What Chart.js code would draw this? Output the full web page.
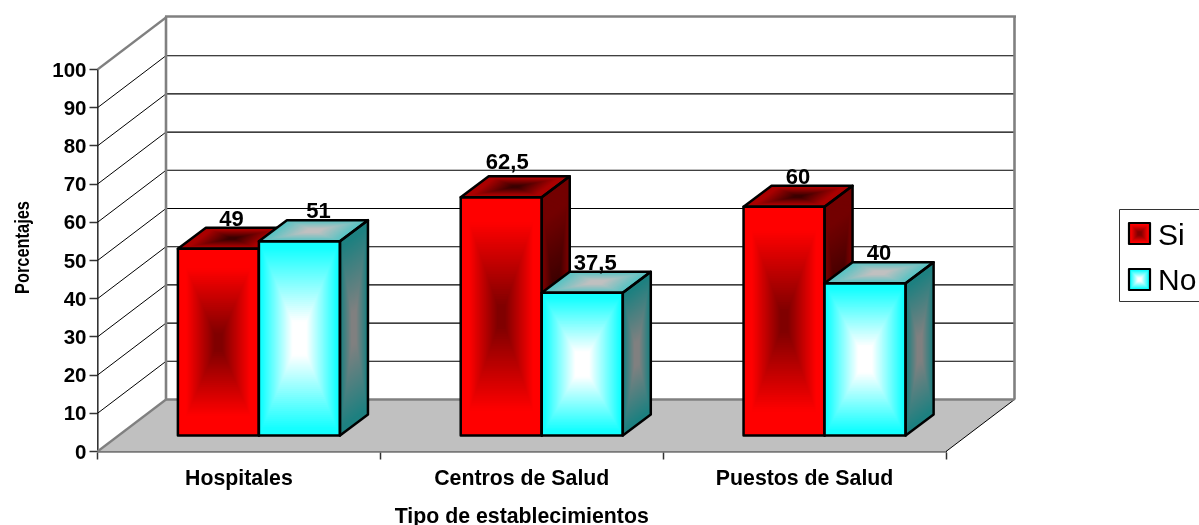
<!DOCTYPE html>
<html>
<head>
<meta charset="utf-8">
<style>
  html, body { margin: 0; padding: 0; background: #fff; }
  canvas { display: block; }
</style>
<script src="https://cdn.jsdelivr.net/npm/chart.js@4"></script>
</head>
<body>
<canvas id="chart" width="1199" height="525"></canvas>
<script>
const categories = ["Hospitales", "Centros de Salud", "Puestos de Salud"]
const siValues = [49, 62.5, 60]
const noValues = [51, 37.5, 40]
const xTitle = "Tipo de establecimientos"
const yTitle = "Porcentajes"

const FONT = '"Liberation Sans", Arial, sans-serif'
const WALL = { dx: 68.5, dy: -52 }   // profundidad de la caja
const BAR = { sx: 20, sy: -15.5, dx: 28, dy: -21 } // plano de las barras y su fondo

// colores [borde, centro] de cada cara, ramp = tramo del degradado
const faces = [
  { ramp: [0.2, 0.9], front: [[255, 0, 0], [128, 0, 0]], top: [[170, 0, 0], [60, 0, 0]], side: [[115, 0, 0], [50, 0, 0]] },
  { ramp: [0.06, 0.82], front: [[20, 255, 255], [255, 255, 255]], top: [[90, 195, 195], [192, 192, 192]], side: [[30, 128, 128], [128, 128, 128]] },
]
// ajuste de cada etiqueta, como las dejó el original
const labelNudge = [[[-1, 0], [-8, -5], [0, 0]], [[5, 0], [-1, 0], [0, 0]]]

function mix(a, b, t) {
  return `rgb(${a.map((v, i) => Math.round(v + (b[i] - v) * t)).join(",")})`
}

// degradado "desde el centro" sobre un paralelogramo
function shade(ctx, o, u, v, [edge, centre], [from, to]) {
  const steps = 48
  ctx.save()
  ctx.transform(u[0], u[1], v[0], v[1], o[0], o[1])
  for (let i = 0; i <= steps; i++) {
    const t = i / steps
    const k = Math.min(1, Math.max(0, (t - from) / (to - from)))
    ctx.fillStyle = mix(edge, centre, k)
    ctx.fillRect(t / 2, t / 2, 1 - t, 1 - t)
  }
  ctx.restore()
}

function outline(ctx, pts, width) {
  ctx.beginPath()
  pts.forEach((p, i) => i ? ctx.lineTo(p[0], p[1]) : ctx.moveTo(p[0], p[1]))
  ctx.closePath()
  ctx.lineWidth = width
  ctx.strokeStyle = "#000"
  ctx.lineJoin = "round"
  ctx.stroke()
}

function line(ctx, x1, y1, x2, y2, color, width) {
  ctx.beginPath()
  ctx.moveTo(x1, y1)
  ctx.lineTo(x2, y2)
  ctx.strokeStyle = color
  ctx.lineWidth = width
  ctx.stroke()
}

const boxPlugin = {
  id: "box3d",
  beforeDatasetsDraw(chart) {
    const { ctx, chartArea: a, scales: { y } } = chart
    const bx = a.left + WALL.dx, by = WALL.dy
    ctx.save()
    // suelo
    ctx.beginPath()
    ctx.moveTo(a.left, a.bottom)
    ctx.lineTo(a.right, a.bottom)
    ctx.lineTo(a.right + WALL.dx, a.bottom + by)
    ctx.lineTo(bx, a.bottom + by)
    ctx.closePath()
    ctx.fillStyle = "#c0c0c0"
    ctx.fill()
    // rejilla en pared y lateral
    y.ticks.forEach(t => {
      const py = y.getPixelForValue(t.value)
      if (t.value > 0 && t.value < 100) {
        line(ctx, a.left, py, bx, py + by, "#000", 1)
        line(ctx, bx, py + by, a.right + WALL.dx, py + by, "#000", 1.1)
      }
    })
    line(ctx, a.right, a.bottom, a.right + WALL.dx, a.bottom + by, "#000", 1)
    // marco gris
    const grey = "#808080"
    line(ctx, a.left, a.top, bx, a.top + by, grey, 2.2)
    line(ctx, bx - 1, a.top + by - 1, a.right + WALL.dx + 1.5, a.top + by - 1, grey, 2.4)
    line(ctx, bx, a.top + by - 1, bx, a.bottom + by, grey, 2.6)
    line(ctx, a.right + WALL.dx, a.top + by - 1, a.right + WALL.dx, a.bottom + by, grey, 2.6)
    line(ctx, bx, a.bottom + by, a.right + WALL.dx, a.bottom + by, grey, 2.4)
    line(ctx, a.left, a.bottom, bx, a.bottom + by, grey, 2.2)
    ctx.restore()
  },
  afterDatasetsDraw(chart) {
    const { ctx } = chart
    categories.forEach((c, i) => {
      chart.data.datasets.forEach((ds, d) => {
        const el = chart.getDatasetMeta(d).data[i]
        const l = el.x - el.width / 2 + BAR.sx, r = el.x + el.width / 2 + BAR.sx
        const t = el.y + BAR.sy, b = el.base + BAR.sy
        const f = faces[d]
        shade(ctx, [r, t], [BAR.dx, BAR.dy], [0, b - t], f.side, f.ramp)
        shade(ctx, [l, t], [r - l, 0], [BAR.dx, BAR.dy], f.top, f.ramp)
        shade(ctx, [l, t], [r - l, 0], [0, b - t], f.front, f.ramp)
        outline(ctx, [[r, t], [r + BAR.dx, t + BAR.dy], [r + BAR.dx, b + BAR.dy], [r, b]], 2.5)
        outline(ctx, [[l, t], [l + BAR.dx, t + BAR.dy], [r + BAR.dx, t + BAR.dy], [r, t]], 2.5)
        outline(ctx, [[l, t], [r, t], [r, b], [l, b]], 2.5)
      })
    })
    // etiquetas de valor
    ctx.save()
    ctx.font = `bold 22px ${FONT}`
    ctx.fillStyle = "#000"
    ctx.textAlign = "center"
    ctx.textBaseline = "alphabetic"
    chart.data.datasets.forEach((ds, d) => {
      chart.getDatasetMeta(d).data.forEach((el, i) => {
        const [nx, ny] = labelNudge[d][i]
        const txt = String(ds.data[i]).replace(".", ",")
        ctx.fillText(txt, el.x + BAR.sx + BAR.dx / 2 + nx, el.y + BAR.sy + BAR.dy - 2 + ny)
      })
    })
    ctx.restore()
  },
  afterDraw(chart) {
    const { ctx } = chart
    ctx.save()
    // título vertical, algo comprimido como en el original
    ctx.translate(23, 247.5)
    ctx.rotate(-Math.PI / 2)
    ctx.scale(0.8, 1)
    ctx.font = `bold 20.5px ${FONT}`
    ctx.fillStyle = "#000"
    ctx.textAlign = "center"
    ctx.textBaseline = "middle"
    ctx.fillText(yTitle, 0, 0)
    ctx.restore()
    // leyenda
    ctx.save()
    ctx.fillStyle = "#fff"
    ctx.strokeStyle = "#333"
    ctx.lineWidth = 1
    ctx.fillRect(1119.5, 209.5, 90, 92)
    ctx.strokeRect(1119.5, 209.5, 90, 92)
    chart.data.datasets.forEach((ds, d) => {
      const top = 223 + d * 46
      shade(ctx, [1129, top], [21, 0], [0, 21], faces[d].front, [0.15, 0.85])
      outline(ctx, [[1129, top], [1150, top], [1150, top + 21], [1129, top + 21]], 2.2)
      ctx.font = `30px ${FONT}`
      ctx.fillStyle = "#000"
      ctx.textAlign = "left"
      ctx.textBaseline = "alphabetic"
      ctx.fillText(ds.label, 1158, top + 22 - d)
    })
    ctx.restore()
  },
}

new Chart(document.getElementById("chart").getContext("2d"), {
  type: "bar",
  data: {
    labels: categories,
    datasets: [
      { label: "Si", data: siValues, backgroundColor: "transparent", borderWidth: 0 },
      { label: "No", data: noValues, backgroundColor: "transparent", borderWidth: 0 },
    ],
  },
  options: {
    responsive: false,
    animation: false,
    devicePixelRatio: 1,
    categoryPercentage: 0.573,
    barPercentage: 1,
    layout: { padding: { top: 69.5, right: 253, left: 0, bottom: 0 } },
    plugins: { legend: { display: false }, tooltip: { enabled: false } },
    scales: {
      x: {
        afterFit(s) { s.height = 73.5 },
        grid: { drawOnChartArea: false, color: "#333", tickLength: 8, tickWidth: 1.5, offset: true },
        border: { color: "#333", width: 1.6 },
        ticks: { color: "#000", font: { family: FONT, weight: "bold", size: 21.3 }, padding: 7, maxRotation: 0 },
        title: { display: true, text: xTitle, color: "#000", font: { family: FONT, weight: "bold", size: 21.3 }, padding: { top: 0, bottom: -4.5 } },
      },
      y: {
        min: 0,
        max: 100,
        afterFit(s) { s.width = 97.5 },
        grid: { drawOnChartArea: false, color: "#333", tickLength: 8, tickWidth: 1.5 },
        border: { color: "#333", width: 1.6 },
        ticks: {
          stepSize: 10,
          color: "#000",
          // linea vacia + lineHeight corto: baja el texto 1.5px hasta la marca
          callback: v => ["", String(v)],
          font: { family: FONT, weight: "bold", size: 20.5, lineHeight: "3px" },
          padding: 3,
        },
      },
    },
  },
  plugins: [boxPlugin],
})
</script>
</body>
</html>
